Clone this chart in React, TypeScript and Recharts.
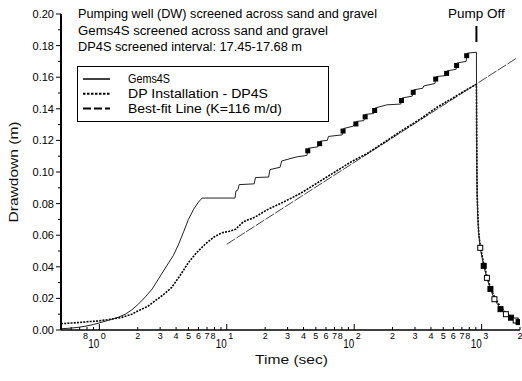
import React from 'react';
import { LineChart, Line, XAxis, YAxis, ReferenceLine, Legend, Customized } from 'recharts';

// ---- Data (time in sec, drawdown in m) ----
const gemsTime = [
  0.5, 0.6, 0.7, 0.8, 0.9, 1.0, 1.2, 1.4, 1.6, 1.8, 2.0, 2.3, 2.6, 3.0, 3.4, 3.8, 4.2, 4.6, 5.0, 5.5, 6.0, 6.4,
  11.6, 11.8, 12.2, 12.5, 16.4, 16.8, 21.3, 21.8, 26.2, 27.0, 35.0, 42.5, 43.6, 52.0, 54.0, 61.5, 62.8, 80.5, 82.5,
  98.0, 104.0, 119.0, 123.0, 142.0, 146.0, 180.0, 232.0, 237.0, 285.0, 293.0, 345.0, 352.0, 430.0, 440.0, 525.0,
  536.0, 630.0, 642.0, 755.0, 770.0, 910.0,
  912, 915, 918, 922, 935, 948, 975, 1038, 1100, 1172, 1260, 1406, 1550, 1700, 1850, 1950,
];
const gemsDrawdown = [
  0.0008, 0.0012, 0.0018, 0.0026, 0.0035, 0.0045, 0.0063, 0.008, 0.01, 0.0128, 0.016, 0.021, 0.026, 0.034, 0.041, 0.047, 0.0545, 0.0625, 0.07, 0.0765, 0.081, 0.0835,
  0.0835, 0.088, 0.0885, 0.092, 0.0925, 0.0965, 0.0968, 0.1015, 0.103, 0.107, 0.1095, 0.1105, 0.115, 0.116, 0.1195, 0.12, 0.1225, 0.1235, 0.1275,
  0.129, 0.132, 0.1325, 0.1365, 0.137, 0.1405, 0.1425, 0.143, 0.1468, 0.148, 0.152, 0.153, 0.1545, 0.156, 0.1604, 0.161,
  0.164, 0.165, 0.169, 0.17, 0.1752, 0.1758,
  0.15, 0.12, 0.1, 0.085, 0.07, 0.061, 0.052, 0.0406, 0.033, 0.026, 0.0195, 0.0132, 0.01, 0.0078, 0.006, 0.005,
];

const dpTime = [
  0.5, 0.6, 0.7, 0.8, 1.0, 1.2, 1.5, 1.8, 2.0, 2.4, 2.74, 3.2, 3.7, 4.3, 5.0, 5.8, 6.8, 8.0, 9.2, 10.5, 11.7, 13.5,
  16.7, 20.6, 27.9, 37.9, 50, 68.9, 95, 125, 170, 245, 330, 447, 600, 760, 910,
  912, 915, 918, 922, 935, 948, 975, 1038, 1100, 1172, 1260, 1406, 1550, 1700, 1850, 1950,
];
const dpDrawdown = [
  0.004, 0.0044, 0.0048, 0.0052, 0.0058, 0.0067, 0.008, 0.01, 0.012, 0.015, 0.0185, 0.0225, 0.027, 0.0345, 0.0427, 0.049, 0.0545, 0.059, 0.0616, 0.0625, 0.0637, 0.0685,
  0.0715, 0.076, 0.081, 0.0865, 0.0925, 0.0995, 0.1065, 0.1115, 0.1185, 0.127, 0.1335, 0.141, 0.147, 0.152, 0.1555,
  0.14, 0.118, 0.1, 0.086, 0.071, 0.062, 0.053, 0.042, 0.034, 0.027, 0.021, 0.0145, 0.011, 0.0085, 0.0068, 0.006,
];

const fitTime = [10, 1900];
const fitDrawdown = [0.0543, 0.1723];

const pumpOffTime = 910;
const pumpOffMark = [0.1823, 0.1924];

const xTicks = [
  0.6, 0.7, 0.8, 0.9, 1, 2, 3, 4, 5, 6, 7, 8, 9, 10, 20, 30, 40, 50, 60, 70, 80, 90,
  100, 200, 300, 400, 500, 600, 700, 800, 900, 1000, 2000,
];
const yTicks = [
  0, 0.01, 0.02, 0.03, 0.04, 0.05, 0.06, 0.07, 0.08, 0.09, 0.1, 0.11, 0.12, 0.13, 0.14, 0.15, 0.16, 0.17, 0.18, 0.19, 0.2,
];

const headerLines = [
  'Pumping well (DW) screened across sand and gravel',
  'Gems4S screened across sand and gravel',
  'DP4S screened interval: 17.45-17.68 m',
];
const seriesNames = ['Gems4S', 'DP Installation - DP4S', 'Best-fit Line (K=116 m/d)'];

const zip = (t: number[], d: number[]) => t.map((x, i) => ({ t: x, d: d[i] }));
const gemsData = zip(gemsTime, gemsDrawdown);
const dpData = zip(dpTime, dpDrawdown);
const fitData = zip(fitTime, fitDrawdown);

const FONT = '"Liberation Sans", Arial, Helvetica, sans-serif';

const XTick = (props: any) => {
  const { x, y, payload } = props;
  const v: number = payload.value;
  const e = Math.floor(Math.log10(v) + 1e-9);
  const m = Math.round(v / Math.pow(10, e));
  const major = m === 1;
  let label: React.ReactNode = null;
  if (major) {
    label = (
      <g>
        <text x={x - 11} y={y + 18} textAnchor="start" fontSize={12} fill="#000" textLength={11} lengthAdjust="spacingAndGlyphs">10</text>
        <text x={x + 1.5} y={y + 9} textAnchor="start" fontSize={9} fill="#000">{e}</text>
      </g>
    );
  } else if (m >= 2 && m <= 8 && !(e === -1 && m < 8)) {
    label = (
      <text x={m === 8 ? x - 1.5 : x} y={y + 8.5} textAnchor="middle" fontSize={9} fill="#000">{m}</text>
    );
  }
  return (
    <g>
      <line x1={x} x2={x} y1={y} y2={y - (major ? 6 : 3)} stroke="#000" strokeWidth={1} />
      {label}
    </g>
  );
};

const YTick = (props: any) => {
  const { x, y, payload } = props;
  const v: number = payload.value;
  const major = Math.round(v * 100) % 2 === 0;
  return (
    <g>
      <line x1={x} x2={x - (major ? 5 : 3)} y1={y} y2={y} stroke="#000" strokeWidth={1} />
      {major && (
        <text x={x - 7} y={y + 4} textAnchor="end" fontSize={11} fill="#000">{v.toFixed(2)}</text>
      )}
    </g>
  );
};

// Gems4S marker squares: on step risers late in pumping, and along the recovery tail
const GemsDot = (props: any) => {
  const { cx, cy, index } = props;
  const t = gemsTime[index];
  const d = gemsDrawdown[index];
  const prev = index > 0 ? gemsDrawdown[index - 1] : d;
  if (t > 40 && t <= pumpOffTime && d - prev > 0.003) {
    return <rect key={index} x={cx - 3} y={cy} width={5} height={5} fill="#000" />;
  }
  if (t > 960) {
    const filled = index % 2 === 0;
    return (
      <rect key={index} x={cx - 2.5} y={cy - 2.5} width={5} height={5} fill={filled ? '#000' : '#fff'} stroke="#000" strokeWidth={1} />
    );
  }
  return <g key={index} />;
};

const Annotations = () => (
  <g style={{ fontFamily: FONT }} fill="#000">
    <text x={78} y={18.3} fontSize={12} textLength={299} lengthAdjust="spacingAndGlyphs">{headerLines[0]}</text>
    <text x={78} y={34.6} fontSize={12} textLength={250} lengthAdjust="spacingAndGlyphs">{headerLines[1]}</text>
    <text x={78} y={50.8} fontSize={12} textLength={224} lengthAdjust="spacingAndGlyphs">{headerLines[2]}</text>
    <text x={291.5} y={364} fontSize={13} textAnchor="middle" textLength={73} lengthAdjust="spacingAndGlyphs" fill="#111">Time (sec)</text>
    <text transform="translate(18,172) rotate(-90)" x={0} y={0} fontSize={12} textAnchor="middle" textLength={101} lengthAdjust="spacingAndGlyphs" fill="#111">Drawdown (m)</text>
  </g>
);

const LegendBox = () => {
  const dashes = [undefined, '2.5 1.5', '8 3'];
  const widths = [42, 140, 154];
  return (
    <svg width={252} height={56} style={{ display: 'block', fontFamily: FONT }}>
      <rect x={0.5} y={0.5} width={251} height={55} fill="#fff" stroke="#000" strokeWidth={1} />
      {seriesNames.map((name, i) => (
        <g key={name}>
          <line x1={6} x2={33} y1={13 + i * 14.7} y2={13 + i * 14.7} stroke="#000" strokeWidth={i === 0 ? 1.5 : 2} strokeDasharray={dashes[i]} />
          <text x={51} y={17.3 + i * 14.8} fontSize={12} fill="#000" textLength={widths[i]} lengthAdjust="spacingAndGlyphs">{name}</text>
        </g>
      ))}
    </svg>
  );
};

export default function App() {
  return (
    <div style={{ position: 'absolute', left: 0, top: 0, width: 522, height: 381, background: '#fff' }}>
      <LineChart
        width={522}
        height={381}
        margin={{ top: 14, right: 2, bottom: 50, left: 60 }}
        style={{ fontFamily: FONT }}
      >
        <XAxis
          dataKey="t"
          type="number"
          scale="log"
          domain={[0.5, 2000]}
          allowDataOverflow
          ticks={xTicks}
          interval={0}
          height={1}
          tickSize={0}
          tickMargin={0}
          tickLine={false}
          tick={<XTick />}
          axisLine={{ stroke: '#000', strokeWidth: 1.5 }}
        />
        <YAxis
          type="number"
          domain={[0, 0.2]}
          ticks={yTicks}
          interval={0}
          width={1}
          tickSize={0}
          tickMargin={0}
          tickLine={false}
          tick={<YTick />}
          axisLine={{ stroke: '#000', strokeWidth: 2 }}
        />
        <Legend
          layout="horizontal"
          verticalAlign="middle"
          align="center"
          content={() => <LegendBox />}
          wrapperStyle={{ left: 77, top: 66, width: 252, height: 56 }}
        />
        <Line
          data={fitData}
          dataKey="d"
          name={seriesNames[2]}
          type="linear"
          dot={false}
          stroke="#444"
          strokeWidth={1}
          strokeDasharray="10 1.5"
          isAnimationActive={false}
        />
        <Line
          data={dpData}
          dataKey="d"
          name={seriesNames[1]}
          type="linear"
          dot={false}
          stroke="#000"
          strokeWidth={1.6}
          strokeDasharray="2 1.2"
          isAnimationActive={false}
        />
        <Line
          data={gemsData}
          dataKey="d"
          name={seriesNames[0]}
          type="linear"
          dot={<GemsDot />}
          stroke="#222"
          strokeWidth={1}
          isAnimationActive={false}
        />
        <ReferenceLine
          segment={[{ x: pumpOffTime, y: pumpOffMark[0] }, { x: pumpOffTime, y: pumpOffMark[1] }]}
          stroke="#000"
          strokeWidth={2}
          label={{ value: 'Pump Off', position: 'top', offset: 8, fontSize: 13.5, fill: '#000' }}
        />
        <Customized component={Annotations} />
      </LineChart>
    </div>
  );
}
